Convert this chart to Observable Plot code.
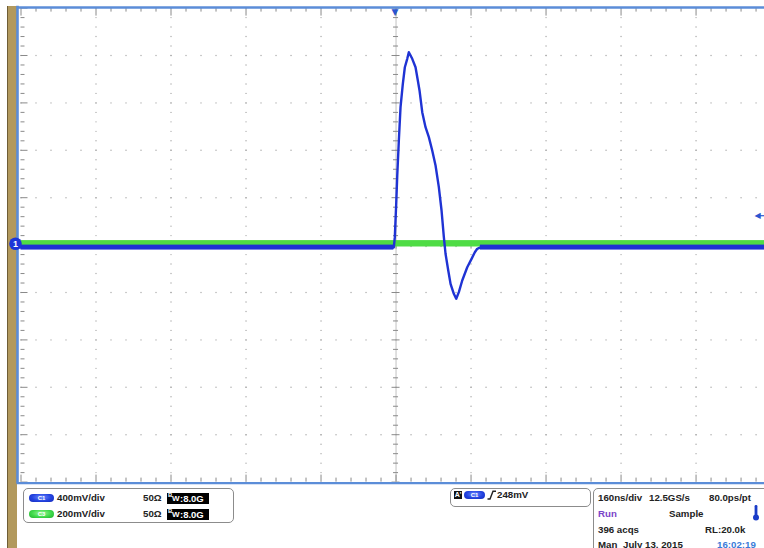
<!DOCTYPE html>
<html><head><meta charset="utf-8">
<script src="https://cdn.jsdelivr.net/npm/d3@7"></script>
<script src="https://cdn.jsdelivr.net/npm/@observablehq/plot@0.6"></script>
<style>
html,body{margin:0;padding:0;background:#fff;}
#wrap{position:relative;width:764px;height:548px;overflow:hidden;background:#fff;font-family:"Liberation Sans",Arial,sans-serif;font-weight:bold;font-size:9.7px;color:#222;}
#strip{position:absolute;left:7px;top:6px;width:10px;height:542px;background:#b2995d;border-left:1px solid #6e5d36;box-sizing:border-box;}
#chart{position:absolute;left:0;top:0;}
.panel{position:absolute;border:1.3px solid #8c8c8c;border-radius:5px;box-sizing:border-box;background:#fff;}
.t{position:absolute;white-space:nowrap;line-height:10px;}
.pill{position:absolute;width:25px;height:8px;border-radius:4px;color:#fff;font-size:6px;line-height:8px;text-align:center;}
.pill.c1{background:radial-gradient(ellipse at 50% 40%,#6f8cff 0%,#2343e0 55%,#1429b8 100%);}
.pill.c3{background:radial-gradient(ellipse at 50% 40%,#9cf79a 0%,#3fd94a 55%,#1fae2b 100%);}
.bw{position:absolute;width:42px;height:11px;background:#000;color:#fff;font-size:9.5px;line-height:11px;}
.bw .b{position:absolute;left:1px;top:-2px;font-size:6px;line-height:8px;}
.bw .w{position:absolute;left:5px;top:1.5px;font-size:8px;line-height:10px;}
.bw .r{position:absolute;left:13px;top:0;}
</style></head>
<body>
<div id="wrap">
  <div id="strip"></div>
  <div id="chart"></div>
</div>
<script>
const nsPerDiv = 160;
const voltsPerDiv = {C1: 0.4, C3: 0.2};
const blueTimeNs = [-800, -4.7, -2.6, 0.4, 2.6, 6.0, 9.6, 14.5, 18.8, 23.9, 27.3, 34.6, 41.6, 46.5, 50.1, 55.9, 62.9, 70.0, 77.2, 84.3, 91.3, 97.1, 102.0, 105.6, 111.4, 116.3, 123.3, 128.4, 134.0, 141.2, 151.9, 161.1, 168.1, 173.2, 180, 786];
const blueVolts = [-0.020, -0.020, 0.067, 0.351, 0.587, 0.883, 1.164, 1.361, 1.501, 1.572, 1.628, 1.572, 1.501, 1.389, 1.305, 1.122, 0.995, 0.911, 0.798, 0.672, 0.489, 0.292, 0.067, -0.073, -0.214, -0.327, -0.411, -0.453, -0.397, -0.299, -0.187, -0.116, -0.060, -0.031, -0.020, -0.020];
const greenTimeNs = [-800, 786];
const greenVolts = [0.006, 0.006];
// baseline noise envelopes (low, high) in volts, and the time spans where the trace sits on its baseline
const blueNoiseSpans = [[-800, -4.7], [180, 786]];
const blueNoiseVolts = [-0.042, 0.000];
const greenNoiseVolts = [-0.008, 0.019];
const channelMarkerVolts = 0.011;
const triggerLevelV = 0.248;
const triggerTimeNs = 0;

// ---- build tables ----
const blue = blueTimeNs.map((t, i) => ({t, div: blueVolts[i] / voltsPerDiv.C1}));
const blueBands = blueNoiseSpans.map(([t1, t2]) => ({t1, t2, lo: blueNoiseVolts[0] / voltsPerDiv.C1, hi: blueNoiseVolts[1] / voltsPerDiv.C1}));
const greenBands = [{t1: greenTimeNs[0], t2: greenTimeNs[1], lo: greenNoiseVolts[0] / voltsPerDiv.C3, hi: greenNoiseVolts[1] / voltsPerDiv.C3}];

const pxPerDivY = 47.4, pxPerDivX = 75;
const nsPerPx = nsPerDiv / pxPerDivX, divPerPx = 1 / pxPerDivY;
const minorT = d3.range(-25, 25).map(k => k * nsPerDiv / 5).filter(t => t <= 786);
const minorY = d3.range(-25, 26).map(k => k / 5);
const majorT = [-4, -3, -2, -1, 1, 2, 3, 4].map(k => k * nsPerDiv);
const majorY = [-4, -3, -2, -1, 1, 2, 3, 4];
const isMajT = t => Math.abs(t / nsPerDiv - Math.round(t / nsPerDiv)) < 1e-6;
const isMajY = y => Math.abs(y - Math.round(y)) < 1e-6;
const dots = [];
for (const t of majorT) for (const y of minorY) dots.push({t, y});
for (const y of majorY) for (const t of minorT) dots.push({t, y});

const frameC = "#5b8dd8", tickC = "#8a8a8a";
const chart = Plot.plot({
  width: 764, height: 484,
  marginLeft: 20.5, marginRight: 0, marginTop: 7.6, marginBottom: 2.4,
  x: {domain: [-800, 786], axis: null},
  y: {domain: [-5, 5], axis: null},
  style: {background: "transparent", overflow: "visible"},
  marks: [
    Plot.dot(dots, {x: "t", y: "y", r: 0.7, fill: "#a9a9a9", stroke: null}),
    Plot.ruleX([0], {stroke: "#c2c2c2", strokeWidth: 1}),
    Plot.ruleY([0], {stroke: "#c2c2c2", strokeWidth: 1}),
    // center crosshair ticks
    Plot.ruleY(minorY, {y: d => d, x1: d => -(isMajY(d) ? 4 : 2.5) * nsPerPx, x2: d => (isMajY(d) ? 4 : 2.5) * nsPerPx, stroke: tickC}),
    Plot.ruleX(minorT, {x: d => d, y1: d => -(isMajT(d) ? 4 : 2.5) * divPerPx, y2: d => (isMajT(d) ? 4 : 2.5) * divPerPx, stroke: tickC}),
    // border ticks
    Plot.ruleX(minorT, {x: d => d, y1: 5, y2: d => 5 - (isMajT(d) ? 8 : 4) * divPerPx, stroke: tickC}),
    Plot.ruleX(minorT, {x: d => d, y1: -5, y2: d => -5 + (isMajT(d) ? 7 : 4) * divPerPx, stroke: tickC}),
    Plot.ruleY(minorY, {y: d => d, x1: -800, x2: d => -800 + (isMajY(d) ? 7 : 4) * nsPerPx, stroke: tickC}),
    // traces
    Plot.rect(greenBands, {x1: "t1", x2: "t2", y1: "lo", y2: "hi", fill: "#4fdc45"}),
    Plot.rect(blueBands, {x1: "t1", x2: "t2", y1: "lo", y2: "hi", fill: "#1f33d4"}),
    Plot.line(blue, {x: "t", y: "div", stroke: "#1f33d4", strokeWidth: 2.4, curve: "linear"}),
    // frame
    Plot.ruleY([5], {x1: -808, x2: 786, stroke: frameC, strokeWidth: 2.4, dy: -0.6}),
    Plot.ruleY([-5], {x1: -808, x2: 786, stroke: frameC, strokeWidth: 2.4, dy: 1}),
    Plot.ruleX([-800], {y1: -5 - 2 * divPerPx, y2: 5 + 1.8 * divPerPx, stroke: frameC, strokeWidth: 2.6, dx: -3.5}),
    // trigger position marker
    Plot.text([triggerTimeNs], {x: d => d, y: 5, text: () => "▼", fill: "#2a55d0", fontSize: 9, dy: 4, dx: -1.2, fontFamily: "DejaVu Sans"}),
    // channel 1 ground marker
    Plot.dot([channelMarkerVolts], {x: -800, y: d => d / voltsPerDiv.C1, r: 6.3, fill: "#1c35d8", stroke: null, dx: -5.5}),
    Plot.text([channelMarkerVolts], {x: -800, y: d => d / voltsPerDiv.C1, text: () => "1", fill: "#fff", fontSize: 9, fontWeight: "bold", dx: -5.5, fontFamily: "Liberation Sans"}),
    // trigger level marker
    Plot.ruleY([triggerLevelV / voltsPerDiv.C1], {x1: 777, x2: 786, stroke: "#2a55d0", strokeWidth: 1.2}),
    Plot.text([triggerLevelV / voltsPerDiv.C1], {x: 786, y: d => d, text: () => "◀", fill: "#2a55d0", fontSize: 8, dx: -7, fontFamily: "DejaVu Sans"})
  ]
});
document.getElementById("chart").appendChild(chart);

// ---- readout panels ----
const wrap = document.getElementById("wrap");
function el(html) { wrap.insertAdjacentHTML("beforeend", html); }
const chanRows = [
  {ch: "C1", cls: "c1", scale: "400mV/div", imp: "50Ω", bw: "8.0G", y: 497.5},
  {ch: "C3", cls: "c3", scale: "200mV/div", imp: "50Ω", bw: "8.0G", y: 513.5}
];
el(`<div class="panel" style="left:23px;top:488px;width:211px;height:35px"></div>`);
for (const r of chanRows) {
  el(`<div class="pill ${r.cls}" style="left:29px;top:${r.y - 4}px">${r.ch}</div>`);
  el(`<div class="t" style="left:57px;top:${r.y - 5}px">${r.scale}</div>`);
  el(`<div class="t" style="left:143px;top:${r.y - 5}px">${r.imp}</div>`);
  el(`<div class="bw" style="left:167px;top:${r.y - 5}px"><span class="b">B</span><span class="w">W</span><span class="r">:${r.bw}</span></div>`);
}
el(`<div class="panel" style="left:450px;top:488px;width:141px;height:19px"></div>`);
el(`<div style="position:absolute;left:454px;top:491px;width:8px;height:8px;background:#111;color:#fff;font-size:7px;line-height:8px;text-align:center">A'</div>`);
el(`<div class="pill c1" style="left:464px;top:491px;width:21px">C1</div>`);
el(`<svg style="position:absolute;left:487px;top:490px" width="9" height="10"><path d="M0.5 9 L3 9 L6 1.2 L9 1.2" fill="none" stroke="#222" stroke-width="1.4"/></svg>`);
el(`<div class="t" style="left:497px;top:490px">${(triggerLevelV * 1000).toFixed(0)}mV</div>`);

const timeRows = [
  [["160ns/div", 598], ["12.5GS/s", 649], ["80.0ps/pt", 709]],
  [["Run", 598, "#7a45c8"], ["Sample", 669]],
  [["396 acqs", 598], ["RL:20.0k", 705]],
  [["Man", 598], ["July 13, 2015", 623], ["16:02:19", 717, "#3a7bd8"]]
];
const rowY = [497.5, 513.5, 529.5, 545];
el(`<div class="panel" style="left:593px;top:488px;width:190px;height:80px"></div>`);
timeRows.forEach((row, i) => row.forEach(([txt, x, c]) => el(`<div class="t" style="left:${x}px;top:${rowY[i] - 5}px;${c ? "color:" + c : ""}">${txt}</div>`)));
el(`<svg style="position:absolute;left:751px;top:504px" width="10" height="18"><rect x="3.6" y="1" width="2.8" height="11" rx="1.2" fill="#1a3cc8"/><circle cx="5" cy="13.5" r="3" fill="#1a3cc8"/></svg>`);
</script>
</body></html>
